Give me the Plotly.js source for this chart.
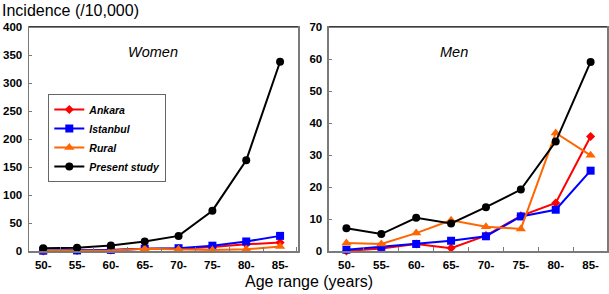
<!DOCTYPE html>
<html>
<head>
<meta charset="utf-8">
<script src="https://cdn.plot.ly/plotly-3.0.1.min.js"></script>
<style>html,body{margin:0;padding:0;background:#fff;}#chart{width:609px;height:294px;}</style>
</head>
<body>
<div id="chart"></div>
<script>
const ageGroups = ['50-', '55-', '60-', '65-', '70-', '75-', '80-', '85-'];

const womenAnkara   = [0.3, 1, 2, 4, 4, 7, 12, 15];
const womenIstanbul = [0.5, 1, 2, 4, 5, 9.5, 17, 27];
const womenRural    = [0, 1, 1, 4, 3, 2, 3, 8];
const womenPresent  = [5, 6, 10, 17, 27, 72, 162, 338];

const menAnkara   = [0, 0.8, 2.2, 0.9, 4.8, 11, 15, 35.8];
const menIstanbul = [0.4, 1.3, 2.2, 3.2, 4.6, 10.8, 12.9, 25.1];
const menRural    = [2.5, 2.2, 5.6, 9.6, 7.6, 6.9, 36.9, 29.9];
const menPresent  = [7.1, 5.3, 10.4, 8.6, 13.7, 19.2, 34.2, 59.1];

const seriesNames = ['Ankara', 'Istanbul', 'Rural', 'Present study'];

const styles = [
  {color: '#ff0000', symbol: 'diamond', size: 7},
  {color: '#0000ff', symbol: 'square', size: 8},
  {color: '#ff6600', symbol: 'triangle-up', size: 9},
  {color: '#000000', symbol: 'circle', size: 8}
];

const womenData = [womenAnkara, womenIstanbul, womenRural, womenPresent];
const menData = [menAnkara, menIstanbul, menRural, menPresent];

const traces = [];
womenData.forEach((ys, i) => {
  traces.push({
    x: ageGroups, y: ys, name: seriesNames[i], type: 'scatter', mode: 'lines+markers',
    xaxis: 'x', yaxis: 'y', showlegend: true, cliponaxis: false,
    line: {color: styles[i].color, width: 2},
    marker: {color: styles[i].color, symbol: styles[i].symbol, size: styles[i].size}
  });
});
menData.forEach((ys, i) => {
  traces.push({
    x: ageGroups, y: ys, name: seriesNames[i], type: 'scatter', mode: 'lines+markers',
    xaxis: 'x2', yaxis: 'y2', showlegend: false, cliponaxis: false,
    line: {color: styles[i].color, width: 2},
    marker: {color: styles[i].color, symbol: styles[i].symbol, size: styles[i].size}
  });
});

const tickFont = {family: 'Arial, "Liberation Sans", sans-serif', size: 11.5, color: '#000', weight: 'bold'};
const axisLine = '#7a7a7a';

function xAxis(domain, anchor, range) {
  return {
    domain: domain, anchor: anchor, type: 'category', range: range,
    showline: true, linecolor: axisLine, linewidth: 1.5, mirror: true,
    showgrid: false, zeroline: false,
    ticks: 'inside', tickson: 'boundaries', ticklen: 4, tickcolor: axisLine, tickwidth: 1,
    tickfont: tickFont, ticklabelstandoff: 3, fixedrange: true
  };
}
function yAxis(anchor, range, dtick) {
  return {
    anchor: anchor, range: range, dtick: dtick, tick0: 0,
    showline: true, linecolor: axisLine, linewidth: 1.5, mirror: true,
    showgrid: false, zeroline: false,
    ticks: 'inside', ticklen: 3, tickcolor: axisLine, tickwidth: 1,
    tickfont: tickFont, ticklabelstandoff: 3, fixedrange: true
  };
}

const layout = {
  width: 609, height: 294,
  margin: {l: 29, r: 2, t: 27, b: 43, pad: 0},
  paper_bgcolor: '#fff', plot_bgcolor: '#fff',
  font: {family: 'Arial, "Liberation Sans", sans-serif', color: '#000'},
  xaxis: xAxis([0, 0.4654], 'y', [-0.42, 7.53]),
  yaxis: yAxis('x', [0, 400], 50),
  xaxis2: xAxis([0.519, 1], 'y2', [-0.5, 7.47]),
  yaxis2: yAxis('x2', [0, 70], 10),
  showlegend: true,
  legend: {
    x: 0.0334, y: 0.701, xanchor: 'left', yanchor: 'top',
    bgcolor: '#fff', bordercolor: '#666', borderwidth: 1,
    font: {family: 'Arial, "Liberation Sans", sans-serif', size: 10.5, weight: 'bold', style: 'italic', color: '#000'},
    itemwidth: 30, tracegroupgap: 0
  },
  shapes: [
    {type: 'line', xref: 'x domain', yref: 'y domain', x0: 0, x1: 1, y0: 1, y1: 1, line: {color: '#000', width: 1}},
    {type: 'line', xref: 'x2 domain', yref: 'y2 domain', x0: 0, x1: 1, y0: 1, y1: 1, line: {color: '#000', width: 1}}
  ],
  annotations: [
    {text: 'Incidence (/10,000)', xref: 'paper', yref: 'paper', x: -29/578, y: 1 + 27/224, xanchor: 'left', yanchor: 'top', showarrow: false, font: {size: 16}},
    {text: 'Age range (years)', xref: 'paper', yref: 'paper', x: 0.4844, y: -0.137, xanchor: 'center', yanchor: 'middle', showarrow: false, font: {size: 16}},
    {text: '<i>Women</i>', xref: 'paper', yref: 'paper', x: 0.2145, y: 0.888, xanchor: 'center', yanchor: 'middle', showarrow: false, font: {size: 14.5}},
    {text: '<i>Men</i>', xref: 'paper', yref: 'paper', x: 0.7353, y: 0.888, xanchor: 'center', yanchor: 'middle', showarrow: false, font: {size: 14.5}}
  ]
};

Plotly.newPlot('chart', traces, layout, {displayModeBar: false, staticPlot: true});
</script>
</body>
</html>
